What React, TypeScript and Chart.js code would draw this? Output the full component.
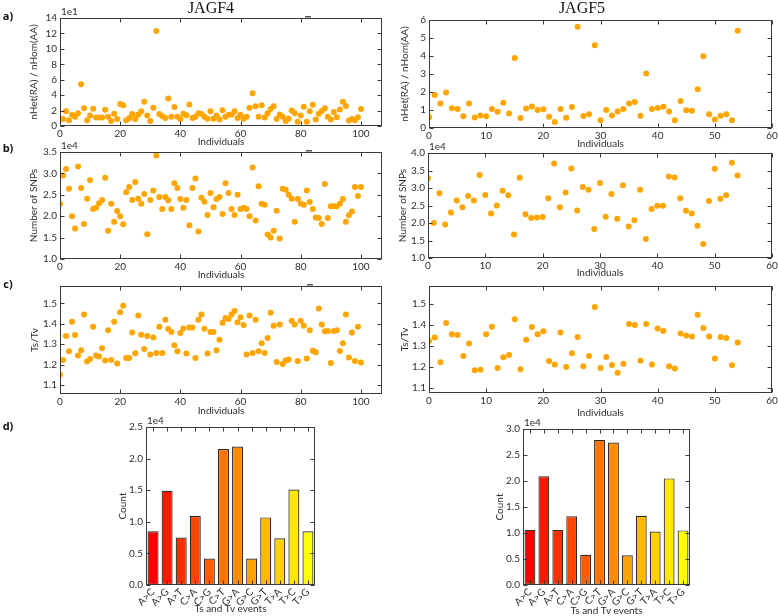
import React, { useEffect, useRef } from 'react';
import { Chart, registerables } from 'chart.js';
Chart.register(...registerables);

// ---------------- DATA ----------------
// a) nHet(RA)/nHom(AA), values in units of 1e1 for JAGF4
const jagf4HetHom = [0.9, 0.9, 1.9, 0.75, 1.45, 1.2, 1.65, 5.4, 2.3, 0.75, 1.35, 2.25, 1.1, 1.1, 1.1, 2.1, 1.2, 0.65, 1.6, 0.9,
  2.85, 2.7, 0.75, 1.0, 1.55, 0.9, 1.5, 1.9, 3.15, 1.35, 0.65, 2.35, 12.3, 1.55, 1.25, 1.05, 3.55, 1.2, 2.45, 1.2,
  0.9, 1.6, 1.4, 2.8, 1.05, 1.2, 1.65, 1.55, 1.2, 0.95, 1.9, 0.95, 1.35, 0.85, 2.05, 1.2, 1.45, 1.5, 1.9, 1.05,
  1.45, 0.95, 1.2, 2.35, 4.25, 2.55, 1.2, 2.7, 1.1, 1.65, 2.2, 2.55, 0.9, 1.5, 1.2, 0.65, 0.95, 2.0, 1.65, 0.55,
  1.35, 2.5, 0.55, 1.9, 2.75, 0.85, 1.6, 1.95, 2.3, 1.2, 0.85, 1.8, 1.15, 2.15, 3.15, 2.6, 0.7, 0.9, 0.75, 1.15, 2.2];
const jagf5HetHom = [0.6, 1.84, 1.36, 1.97, 1.1, 1.05, 0.65, 1.36, 0.58, 0.7, 0.65, 1.05, 0.9, 1.4, 0.8, 3.89, 0.55, 1.08, 1.2, 1.0,
  1.04, 0.62, 0.34, 1.05, 0.57, 1.17, 5.63, 0.67, 0.77, 4.6, 0.43, 1.0, 0.7, 0.92, 1.05, 1.36, 1.45, 0.68, 3.03, 1.05,
  1.11, 1.18, 0.92, 0.43, 1.5, 0.98, 0.96, 2.15, 3.98, 0.77, 0.47, 0.68, 0.77, 0.43, 5.4];

// b) Number of SNPs, in units of 1e4
const jagf4Snps = [2.29, 2.95, 3.1, 2.64, 2.0, 1.71, 3.16, 2.66, 1.82, 2.41, 2.84, 2.17, 2.2, 2.3, 2.38, 2.9, 1.66, 2.29, 1.87, 2.12,
  2.0, 1.81, 2.56, 2.68, 2.38, 2.8, 2.41, 2.29, 2.52, 1.58, 2.38, 2.6, 3.42, 2.45, 2.17, 2.45, 2.37, 2.17, 2.77, 2.66,
  2.4, 2.2, 2.38, 1.79, 2.66, 2.88, 1.64, 2.43, 2.34, 2.03, 2.54, 2.21, 2.4, 2.45, 2.05, 2.77, 2.54, 2.17, 2.03, 2.5,
  2.17, 2.2, 2.17, 2.0, 3.14, 1.9, 2.7, 2.29, 2.27, 1.57, 1.5, 1.66, 2.13, 1.48, 2.64, 2.62, 2.5, 2.41, 1.87, 2.4,
  2.29, 2.27, 2.6, 2.33, 2.17, 1.97, 1.96, 1.82, 2.75, 1.96, 2.23, 2.23, 2.23, 2.29, 2.4, 1.87, 2.02, 2.11, 2.68, 2.47, 2.68];
const jagf5Snps = [3.28, 2.0, 2.85, 1.96, 2.3, 2.64, 2.45, 2.77, 2.64, 3.37, 2.8, 2.27, 2.5, 2.92, 2.79, 1.67, 3.29, 2.25, 2.14, 2.16,
  2.17, 2.71, 3.7, 2.45, 2.87, 3.56, 2.36, 3.03, 2.95, 1.83, 3.14, 2.18, 2.83, 2.12, 3.08, 1.9, 2.08, 2.95, 1.54, 2.4,
  2.49, 2.49, 3.33, 3.3, 2.71, 2.35, 2.27, 1.92, 1.4, 2.63, 3.55, 2.69, 2.79, 3.72, 3.36];

// c) Ts/Tv
const jagf4TsTv = [1.15, 1.223, 1.34, 1.265, 1.41, 1.345, 1.245, 1.27, 1.445, 1.215, 1.227, 1.385, 1.245, 1.24, 1.28, 1.22, 1.368, 1.222, 1.41, 1.205,
  1.457, 1.488, 1.232, 1.232, 1.357, 1.255, 1.44, 1.346, 1.277, 1.34, 1.25, 1.333, 1.257, 1.385, 1.257, 1.42, 1.374, 1.36, 1.295, 1.265,
  1.355, 1.377, 1.254, 1.382, 1.382, 1.232, 1.42, 1.445, 1.376, 1.254, 1.36, 1.36, 1.27, 1.322, 1.405, 1.428, 1.423, 1.445, 1.462, 1.408,
  1.432, 1.394, 1.249, 1.44, 1.257, 1.42, 1.265, 1.305, 1.257, 1.33, 1.454, 1.39, 1.213, 1.397, 1.203, 1.22, 1.225, 1.415, 1.397, 1.218,
  1.415, 1.39, 1.23, 1.368, 1.268, 1.26, 1.475, 1.397, 1.363, 1.365, 1.208, 1.365, 1.368, 1.267, 1.305, 1.445, 1.235, 1.357, 1.218, 1.385, 1.21];
const jagf5TsTv = [1.324, 1.34, 1.222, 1.41, 1.356, 1.353, 1.252, 1.312, 1.184, 1.187, 1.356, 1.392, 1.195, 1.246, 1.257, 1.428, 1.189, 1.33, 1.39, 1.356,
  1.37, 1.228, 1.212, 1.364, 1.2, 1.265, 1.343, 1.203, 1.252, 1.486, 1.195, 1.247, 1.21, 1.172, 1.215, 1.405, 1.4, 1.23, 1.405, 1.212,
  1.383, 1.372, 1.203, 1.193, 1.36, 1.35, 1.345, 1.449, 1.386, 1.345, 1.24, 1.343, 1.338, 1.208, 1.317];

// d) Ts and Tv events, counts in units of 1e4
const eventLabels = ['A>C', 'A>G', 'A>T', 'C>A', 'C>G', 'C>T', 'G>A', 'G>C', 'G>T', 'T>A', 'T>C', 'T>G'];
const jagf4EventCounts = [0.85, 1.49, 0.75, 1.09, 0.42, 2.15, 2.19, 0.42, 1.07, 0.74, 1.51, 0.85];
const jagf5EventCounts = [1.06, 2.09, 1.06, 1.32, 0.58, 2.79, 2.74, 0.57, 1.33, 1.03, 2.05, 1.05];
const eventColors = ['#ff0000', '#ff1700', '#ff2e00', '#ff4600', '#ff5d00', '#ff7400', '#ff8b00', '#ffa200', '#ffb900', '#ffd100', '#ffe800', '#ffff00'];

// ---------------- STYLE ----------------
const FONT = 'Lato, "Open Sans", sans-serif';
const TXT = '#2e2e2e';
const ORANGE = '#FFA500';

interface Spec {
  kind: 'scatter' | 'bar';
  L: number; T: number; R: number; B: number;
  ytx: number; xty: number;
  yTitle: string; xTitle: string;
  xMax?: number; xStep?: number;
  yMin: number; yMax: number; yStep: number; dec: number;
  offset?: string;
  values: number[];
  dashX: number;
}

const panels: Spec[] = [
  { kind: 'scatter', L: 60, T: 18, R: 382, B: 126, ytx: 34, xty: 142, yTitle: 'nHet(RA) / nHom(AA)', xTitle: 'Individuals', xMax: 107, xStep: 20, yMin: 0, yMax: 14, yStep: 2, dec: 0, offset: '1e1', values: jagf4HetHom, dashX: 284 },
  { kind: 'scatter', L: 429, T: 20, R: 772, B: 128, ytx: 405, xty: 144, yTitle: 'nHet(RA) / nHom(AA)', xTitle: 'Individuals', xMax: 60, xStep: 10, yMin: 0, yMax: 6, yStep: 1, dec: 0, values: jagf5HetHom, dashX: 612 },
  { kind: 'scatter', L: 60, T: 152, R: 382, B: 259, ytx: 34, xty: 275, yTitle: 'Number of SNPs', xTitle: 'Individuals', xMax: 107, xStep: 20, yMin: 1, yMax: 3.5, yStep: 0.5, dec: 1, offset: '1e4', values: jagf4Snps, dashX: 285 },
  { kind: 'scatter', L: 428, T: 153, R: 772, B: 258, ytx: 403, xty: 273, yTitle: 'Number of SNPs', xTitle: 'Individuals', xMax: 60, xStep: 10, yMin: 1, yMax: 4, yStep: 0.5, dec: 1, offset: '1e4', values: jagf5Snps, dashX: 612 },
  { kind: 'scatter', L: 60, T: 286, R: 382, B: 394, ytx: 35, xty: 411, yTitle: 'Ts/Tv', xTitle: 'Individuals', xMax: 107, xStep: 20, yMin: 1.056, yMax: 1.585, yStep: 0.1, dec: 1, values: jagf4TsTv, dashX: 285 },
  { kind: 'scatter', L: 429, T: 286, R: 772, B: 393, ytx: 405, xty: 413, yTitle: 'Ts/Tv', xTitle: 'Individuals', xMax: 60, xStep: 10, yMin: 1.076, yMax: 1.586, yStep: 0.1, dec: 1, values: jagf5TsTv, dashX: 612 },
  { kind: 'bar', L: 146, T: 427, R: 315, B: 585, ytx: 123, xty: 609, yTitle: 'Count', xTitle: 'Ts and Tv events', yMin: 0, yMax: 2.5, yStep: 0.5, dec: 1, offset: '1e4', values: jagf4EventCounts, dashX: 243 },
  { kind: 'bar', L: 523, T: 429, R: 690, B: 585, ytx: 500, xty: 611, yTitle: 'Count', xTitle: 'Ts and Tv events', yMin: 0, yMax: 3.0, yStep: 0.5, dec: 1, offset: '1e4', values: jagf5EventCounts, dashX: 620 },
];

function geom(p: Spec) {
  const left = p.ytx - 10;
  const top = p.T - 16;
  const right = p.R + 10;
  const bottom = p.xty + 9;
  return {
    left, top, width: right - left, height: bottom - top,
    yAxisW: p.L - left, xAxisH: bottom - p.B, padTop: p.T - top, padRight: right - p.R,
  };
}

function framePlugin(p: Spec) {
  return {
    id: 'mplFrame',
    afterDraw(chart: any) {
      const { ctx, chartArea: a } = chart;
      const xs = chart.scales.x;
      const ys = chart.scales.y;
      const l = Math.round(a.left) + 0.5, r = Math.round(a.right) - 0.5;
      const t = Math.round(a.top) + 0.5, b = Math.round(a.bottom) - 0.5;
      ctx.save();
      ctx.strokeStyle = '#3a3a3a';
      ctx.lineWidth = 1;
      ctx.strokeRect(l, t, r - l, b - t);
      const tk = 4;
      ctx.beginPath();
      xs.ticks.forEach((_: any, i: number) => {
        const px = Math.round(xs.getPixelForTick(i)) + 0.5;
        ctx.moveTo(px, b); ctx.lineTo(px, b - tk);
        ctx.moveTo(px, t); ctx.lineTo(px, t + tk);
      });
      ys.ticks.forEach((_: any, i: number) => {
        const py = Math.round(ys.getPixelForTick(i)) + 0.5;
        ctx.moveTo(l, py); ctx.lineTo(l + tk, py);
        ctx.moveTo(r, py); ctx.lineTo(r - tk, py);
      });
      ctx.stroke();
      if (p.offset) {
        ctx.fillStyle = TXT;
        ctx.font = `10px ${FONT}`;
        ctx.textAlign = 'left';
        ctx.textBaseline = 'bottom';
        ctx.fillText(p.offset, a.left + 1, a.top - 1);
      }
      ctx.fillStyle = '#555';
      ctx.fillRect(p.dashX - 3, a.top - 2, 6, 1.5);
      ctx.restore();
    },
  };
}

function buildConfig(p: Spec): any {
  const g = geom(p);
  const tickFont = { family: FONT, size: 10 };
  const titleFont = { family: FONT, size: 10 };
  const yScale = {
    type: 'linear',
    min: p.yMin, max: p.yMax,
    grid: { display: false, drawTicks: false },
    border: { display: false },
    ticks: {
      stepSize: p.yStep, includeBounds: false, padding: 3, font: tickFont, color: TXT,
      callback: (v: any) => Number(v).toFixed(p.dec),
    },
    title: { display: true, text: p.yTitle, font: titleFont, color: TXT, padding: { top: 4, bottom: 0 } },
    afterFit: (s: any) => { s.width = g.yAxisW; },
  };
  const xCommon = {
    grid: { display: false, drawTicks: false },
    border: { display: false },
    title: { display: true, text: p.xTitle, font: titleFont, color: TXT, padding: { top: 0, bottom: 3 } },
    afterFit: (s: any) => { s.height = g.xAxisH; },
  };
  const base = {
    responsive: false,
    animation: false,
    events: [],
    layout: { padding: { top: g.padTop, right: g.padRight, left: 0, bottom: 0 } },
    plugins: { legend: { display: false }, tooltip: { enabled: false } },
  };
  if (p.kind === 'scatter') {
    return {
      type: 'scatter',
      data: {
        datasets: [{
          data: p.values.map((v, i) => ({ x: i, y: v })),
          backgroundColor: ORANGE, borderColor: ORANGE, borderWidth: 0,
          pointRadius: 3, pointHoverRadius: 3, clip: 0,
        }],
      },
      options: {
        ...base,
        scales: {
          x: {
            ...xCommon, type: 'linear', min: 0, max: p.xMax,
            ticks: { stepSize: p.xStep, includeBounds: false, padding: 2, font: tickFont, color: TXT, maxRotation: 0, autoSkip: false },
          },
          y: yScale,
        },
      },
      plugins: [framePlugin(p)],
    };
  }
  return {
    type: 'bar',
    data: {
      labels: eventLabels,
      datasets: [{
        data: p.values, backgroundColor: eventColors, borderColor: '#2a2a2a', borderWidth: 1.2,
        borderSkipped: false, barPercentage: 0.78, categoryPercentage: 1,
      }],
    },
    options: {
      ...base,
      scales: {
        x: {
          ...xCommon, type: 'category',
          ticks: { padding: 1, font: tickFont, color: TXT, minRotation: 45, maxRotation: 45, autoSkip: false },
        },
        y: yScale,
      },
    },
    plugins: [framePlugin(p)],
  };
}

function Panel({ p }: { p: Spec }) {
  const ref = useRef<HTMLCanvasElement>(null);
  const g = geom(p);
  useEffect(() => {
    const chart = new Chart(ref.current as HTMLCanvasElement, buildConfig(p));
    return () => chart.destroy();
  }, []);
  return (
    <canvas
      ref={ref}
      width={g.width}
      height={g.height}
      style={{ position: 'absolute', left: g.left, top: g.top, width: g.width, height: g.height }}
    />
  );
}

function Label({ x, y, text, style }: { x: number; y: number; text: string; style: React.CSSProperties }) {
  return (
    <div style={{ position: 'absolute', left: x, top: y, transform: 'translate(-50%, -50%)', whiteSpace: 'nowrap', lineHeight: 1, ...style }}>
      {text}
    </div>
  );
}

export default function App() {
  const titleStyle: React.CSSProperties = { fontFamily: '"Liberation Serif", "Times New Roman", serif', fontSize: 16, color: '#111' };
  const tagStyle: React.CSSProperties = { fontFamily: '"Open Sans", sans-serif', fontWeight: 700, fontSize: 11, color: '#111' };
  return (
    <div style={{ position: 'absolute', left: 0, top: 0, width: 778, height: 616, overflow: 'hidden', background: '#ffffff' }}>
      {panels.map((p, i) => <Panel key={i} p={p} />)}
      <Label x={211} y={8} text="JAGF4" style={titleStyle} />
      <Label x={582} y={8} text="JAGF5" style={titleStyle} />
      <Label x={8} y={15} text="a)" style={tagStyle} />
      <Label x={8} y={147} text="b)" style={tagStyle} />
      <Label x={8} y={283} text="c)" style={tagStyle} />
      <Label x={8} y={425} text="d)" style={tagStyle} />
    </div>
  );
}
